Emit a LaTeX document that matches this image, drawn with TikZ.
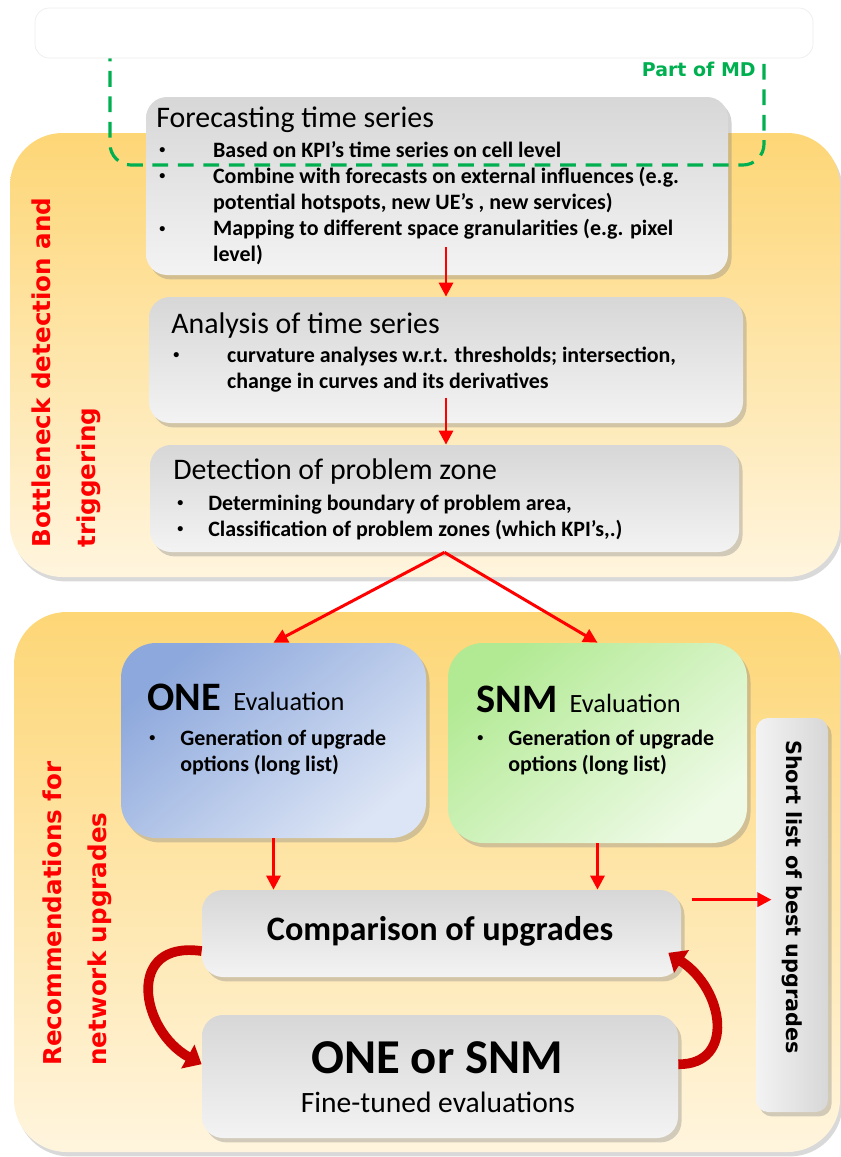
\documentclass[tikz,border=0pt]{standalone}
\usepackage{fontspec}
\setmainfont{Carlito}
\newfontfamily\sidefont{DejaVu Sans}
\usetikzlibrary{arrows.meta, shadows, fit}

\definecolor{panelTop}{RGB}{253,214,118}
\definecolor{panelBot}{RGB}{255,245,222}
\definecolor{boxTop}{RGB}{215,215,215}
\definecolor{boxBot}{RGB}{243,243,243}
\definecolor{oneTop}{RGB}{141,168,220}
\definecolor{oneBot}{RGB}{220,229,245}
\definecolor{snmTop}{RGB}{178,234,148}
\definecolor{snmBot}{RGB}{238,250,230}
\definecolor{mdGreen}{RGB}{0,176,80}
\definecolor{arcRed}{RGB}{200,0,0}

% bullets: wide and narrow indent
\newcommand{\smalldot}{\hspace*{2pt}\raisebox{0.35ex}{\scalebox{0.55}{\textbullet}}}
\newcommand{\bwide}{\makebox[32.6pt][l]{\smalldot}}
\newcommand{\bnarrow}{\makebox[19.6pt][l]{\smalldot}}
\newcommand{\gwide}{\hspace*{32.6pt}}
\newcommand{\gnarrow}{\hspace*{19.6pt}}

\begin{document}
\begin{tikzpicture}[x=0.02cm, y=-0.02cm,
    panel/.style={rounded corners=30pt, top color=panelTop, bottom color=panelBot,
        drop shadow={shadow xshift=1.5pt, shadow yshift=-2.5pt, opacity=0.3}, inner sep=0pt},
    greybox/.style={rounded corners=12pt, top color=boxTop, bottom color=boxBot,
        drop shadow={shadow xshift=2pt, shadow yshift=-2.5pt, opacity=0.35}, inner sep=0pt},
    evalbox/.style={rounded corners=20pt,
        drop shadow={shadow xshift=2pt, shadow yshift=-2.5pt, opacity=0.35}, inner sep=0pt},
    title/.style={anchor=base west, inner sep=0pt, font=\fontsize{17}{20}\selectfont},
    bullets/.style={anchor=north west, inner sep=0pt, align=left,
        font=\bfseries\fontsize{12.5}{14.9}\selectfont},
    sidelabel/.style={rotate=90, anchor=north west, inner sep=0pt, align=left, text=red,
        font=\sidefont\bfseries\fontsize{14}{26}\selectfont},
    redarrow/.style={red, line width=1.7pt, -{Triangle[length=8pt,width=8pt]}},
    curvearrow/.style={arcRed, line width=5.5pt, -{Triangle[length=9pt,width=15pt]}}]

    \useasboundingbox (0,0) rectangle (841,1157);

    % --- 1. yellow panels ---
    \node[panel, fit={(10,133) (840,577)}] (upper) {};
    \node[panel, fit={(14,612) (840,1152)}] (lower) {};

    % --- 2. bottleneck detection chain ---
    \node[greybox, fit={(146,97) (728,275)}] (fc) {};
    \node[title] (fctitle) at (156,127) {Forecasting time series};
    \node[bullets] (fclist) at (155.5,138.6) {\strut\bwide Based on KPI’s time series on cell level\\
        \bwide Combine with forecasts on external influences (e.g.\\
        \gwide potential hotspots, new UE’s , new services)\\
        \bwide Mapping to different space granularities (e.g. pixel\\
        \gwide level)};

    \node[greybox, fit={(149,297) (743,423)}] (an) {};
    \node[title] (antitle) at (171,333) {Analysis of time series};
    \node[bullets] (anlist) at (169.5,343.6) {\strut\bwide curvature analyses w.r.t. thresholds; intersection,\\
        \gwide change in curves and its derivatives};

    \node[greybox, fit={(150,445) (739,552)}] (det) {};
    \node[title] (dettitle) at (173,479) {Detection of problem zone};
    \node[bullets] (detlist) at (173.5,491.6) {\strut\bnarrow Determining boundary of problem area,\\
        \bnarrow Classification of problem zones (which KPI’s,.)};

    % Part of MD (dashed frame, top hidden under the white bar)
    \draw[mdGreen, line width=1.8pt, dash pattern=on 9pt off 5.5pt, rounded corners=12pt]
        (110,20) -- (110,165) -- (764,165) -- (764,20);
    \node[rounded corners=8pt, draw=black!7, fill=white, inner sep=0pt, fit={(35,8) (813,58)}] (topbar) {};
    \node[anchor=east, inner sep=0pt, text=mdGreen, font=\sidefont\bfseries\fontsize{10.8}{12}\selectfont]
        (mdlabel) at (756,69) {Part of MD};

    % --- 3. evaluations ---
    \node[evalbox, top color=oneTop, bottom color=oneBot, shading angle=40, fit={(121,643) (426,838)}] (one) {};
    \node[anchor=base west, inner sep=0pt] (onetitle) at (147,710)
        {{\bfseries\fontsize{23}{26}\selectfont ONE}\hspace{7pt}{\fontsize{15}{18}\selectfont Evaluation}};
    \node[bullets] (onelist) at (145.5,726.6) {\strut\bnarrow Generation of upgrade\\
        \gnarrow options (long list)};

    \node[evalbox, top color=snmTop, bottom color=snmBot, shading angle=40, fit={(448,643) (747,843)}] (snm) {};
    \node[anchor=base west, inner sep=0pt] (snmtitle) at (476,712)
        {{\bfseries\fontsize{23}{26}\selectfont SNM}\hspace{7pt}{\fontsize{15}{18}\selectfont Evaluation}};
    \node[bullets] (snmlist) at (473.5,726.6) {\strut\bnarrow Generation of upgrade\\
        \gnarrow options (long list)};

    \node[greybox, fit={(202,890) (681,977)}] (cmp) {};
    \node[anchor=base, inner sep=0pt, font=\bfseries\fontsize{19.5}{22}\selectfont] (cmptext) at (440,940) {Comparison of upgrades};

    \node[greybox, fit={(202,1015) (678,1138)}] (fine) {};
    \node[anchor=base, inner sep=0pt, font=\bfseries\fontsize{27.7}{30}\selectfont] (finetitle) at (437,1073) {ONE or SNM};
    \node[anchor=base, inner sep=0pt, font=\fontsize{16.8}{19}\selectfont] (finetext) at (438,1112) {Fine-tuned evaluations};

    \node[rounded corners=7pt, left color=boxBot, right color=boxTop, inner sep=0pt,
        drop shadow={shadow xshift=2pt, shadow yshift=-2.5pt, opacity=0.35}, fit={(756,718) (828,1112)}] (slist) {};
    \node[rotate=-90, inner sep=0pt, font=\sidefont\bfseries\fontsize{11.8}{14}\selectfont] (slisttext) at (792,897)
        {Short list of best upgrades};

    % --- 4. side labels ---
    \node[sidelabel] (upperlabel) at (31,548) {Bottleneck detection and\\triggering};
    \node[sidelabel] (lowerlabel) at (42,1066) {Recommendations for\\network upgrades};

    % --- 5. arrows ---
    \draw[redarrow] ([yshift=15.9pt]fc.south -| an.north) -- (an.north);
    \draw[redarrow] ([yshift=14.7pt]an.south) -- (an.south |- det.north);
    \draw[redarrow] (det.south) -- (one.north);
    \draw[redarrow] (det.south) -- (snm.north);
    \draw[redarrow] (one.south) -- (one.south |- cmp.north);
    \draw[redarrow] (snm.south) -- (snm.south |- cmp.north);
    \coordinate (tap) at ([shift={(6pt,-5.7pt)}]cmp.north east);
    \draw[redarrow] (tap) -- ([xshift=9pt]tap -| slist.west);

    \draw[curvearrow] ([yshift=-10pt]cmp.west) .. controls (125,940) and (140,1030) .. ([yshift=7pt]fine.west);
    \draw[curvearrow] ([yshift=7pt]fine.east) .. controls (735,1065) and (725,990) .. ([shift={(-7.4pt,-11pt)}]cmp.east);

\end{tikzpicture}
\end{document}
